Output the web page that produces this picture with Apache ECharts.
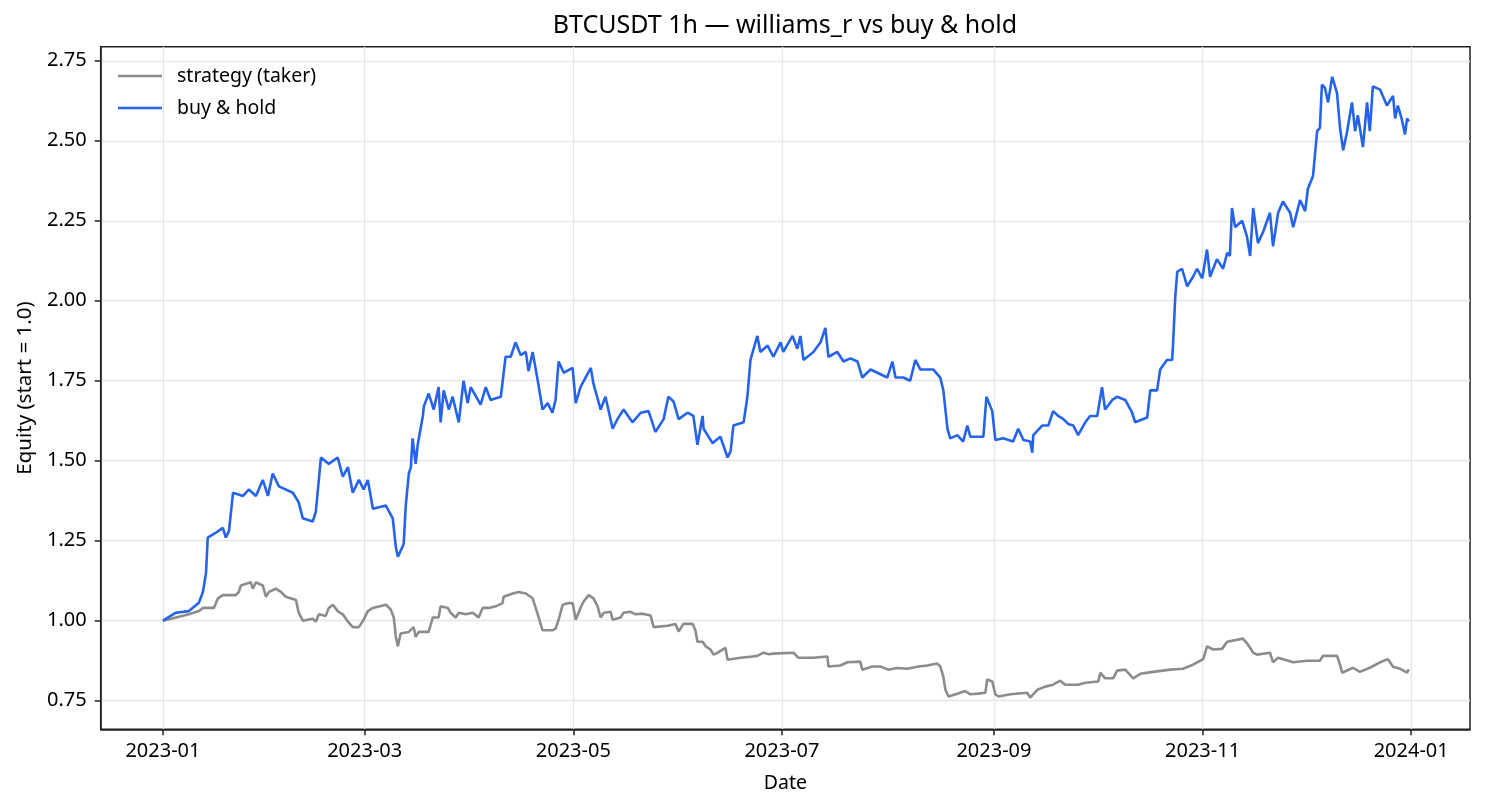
<!DOCTYPE html>
<html>
<head>
<meta charset="utf-8">
<script src="https://cdn.jsdelivr.net/npm/echarts@6/dist/echarts.min.js"></script>
<style>
html,body{margin:0;padding:0;background:#fff;}
#chart{width:1485px;height:810px;}
</style>
</head>
<body>
<div id="chart"></div>
<script>
// Day offsets are days since 2023-01-01 00:00 UTC
const strategyDays = [0,3.8,7.6,10.5,11.7,14.9,16.1,17.5,21.3,22.2,22.8,25.7,26.3,27.2,29.2,30.1,31.0,33.0,34.5,35.9,38.9,39.7,40.9,43.8,44.7,45.6,47.6,48.5,49.7,51.1,52.6,54.1,55.5,57.3,58.7,59.9,61.4,65.2,66.6,67.5,68.1,68.7,69.5,71.9,73.3,73.9,74.8,77.7,78.9,80.6,81.2,83.3,84.1,85.6,86.5,88.5,90.6,92.3,93.5,95.3,97.3,99.3,99.6,102.3,104.0,106.1,108.1,109.6,111.0,113.9,114.8,115.7,116.9,118.6,119.8,120.7,122.1,123.0,124.5,125.9,127.1,128.0,128.9,130.9,131.5,133.8,134.7,136.7,138.2,140.2,142.6,143.5,147.6,149.9,150.8,152.2,154.9,155.7,156.3,157.8,158.7,160.1,161.0,162.2,164.5,165.1,168.9,172.4,173.8,175.6,177.1,178.5,184.4,185.8,190.2,194.3,194.6,198.1,200.1,203.9,204.5,207.4,209.8,212.1,214.7,217.7,220.9,223.5,226.4,227.3,228.2,228.8,229.7,232.3,234.6,236.1,238.4,240.5,241.0,242.5,243.4,244.3,247.8,252.7,253.6,255.7,258.0,260.3,262.4,263.8,267.6,269.7,273.5,274.1,275.5,277.9,279.0,281.4,283.7,285.8,289.5,294.5,298.3,301.2,304.2,305.3,307.1,309.7,311.2,315.8,317.3,318.8,319.9,323.7,324.6,326.1,330.5,334.5,338.3,339.2,343.3,344.2,344.8,348.0,350.0,352.9,355.9,358.2,359.7,361.7,363.8,364.3];
const strategyEquity = [1.00,1.01,1.02,1.03,1.04,1.04,1.07,1.08,1.08,1.09,1.11,1.12,1.10,1.12,1.11,1.075,1.09,1.10,1.09,1.075,1.065,1.025,1.00,1.006,0.997,1.02,1.015,1.04,1.05,1.03,1.02,0.997,0.98,0.98,1.003,1.03,1.04,1.05,1.035,1.01,0.95,0.92,0.96,0.965,0.98,0.95,0.965,0.965,1.01,1.01,1.045,1.04,1.025,1.01,1.025,1.02,1.025,1.01,1.04,1.04,1.045,1.055,1.075,1.085,1.09,1.085,1.07,1.02,0.97,0.97,0.975,1.003,1.05,1.055,1.055,1.003,1.04,1.06,1.08,1.07,1.045,1.01,1.025,1.028,1.003,1.01,1.025,1.028,1.02,1.022,1.016,0.98,0.984,0.99,0.966,0.99,0.99,0.97,0.934,0.934,0.92,0.91,0.894,0.90,0.915,0.878,0.884,0.888,0.89,0.90,0.895,0.897,0.90,0.884,0.884,0.888,0.857,0.86,0.87,0.872,0.847,0.857,0.857,0.847,0.852,0.85,0.857,0.86,0.866,0.857,0.825,0.784,0.763,0.772,0.78,0.77,0.772,0.775,0.816,0.81,0.77,0.763,0.77,0.775,0.76,0.784,0.794,0.80,0.8125,0.80,0.80,0.806,0.81,0.8375,0.82,0.82,0.844,0.847,0.82,0.834,0.84,0.847,0.85,0.8625,0.88,0.92,0.91,0.912,0.934,0.944,0.925,0.90,0.894,0.90,0.87,0.884,0.87,0.875,0.875,0.89,0.89,0.8625,0.8375,0.853,0.84,0.853,0.87,0.88,0.856,0.85,0.8375,0.848];

const holdDays = [0,3.8,7.6,10.5,11.7,12.6,13.1,15.5,17.5,18.4,19.3,20.5,23.4,25.1,27.2,29.2,30.7,32.1,33.9,38.0,39.7,40.9,43.8,44.7,46.2,48.5,51.1,52.6,54.1,55.5,57.3,58.7,59.9,61.4,65.2,67.2,68.1,68.7,70.4,71.0,71.9,72.5,73.0,73.9,74.5,76.0,76.3,77.7,79.2,80.6,81.2,82.1,83.6,84.7,86.5,87.9,89.1,90.0,92.9,94.4,95.8,98.8,100.2,101.7,103.1,104.6,106.1,106.9,108.1,109.6,111.0,112.5,113.9,114.8,115.7,117.2,119.8,120.7,122.1,125.1,125.9,128.0,129.4,131.5,132.9,134.7,137.3,139.7,142.0,144.0,146.4,147.8,149.3,150.8,153.4,155.1,156.3,157.8,158.1,160.7,163.0,165.1,166.0,166.8,169.8,170.9,171.8,173.8,174.7,176.8,178.5,180.6,181.4,184.1,185.5,186.4,187.3,190.2,192.3,193.7,194.6,197.2,199.0,201.0,203.1,204.5,206.9,208.9,211.8,213.3,214.2,216.5,218.5,220.0,221.5,225.3,227.3,228.2,229.4,230.2,232.3,234.0,235.2,236.1,239.9,240.8,242.5,243.4,245.7,248.6,250.1,251.6,253.6,254.2,254.5,257.1,258.9,260.3,261.8,263.3,264.7,266.2,267.6,269.7,271.1,273.2,274.6,275.5,277.6,279.0,281.4,283.4,284.3,287.8,288.7,290.7,291.6,293.6,295.1,295.4,296.0,296.6,298.0,299.5,301.2,302.4,303.9,305.3,306.2,308.2,310.0,311.2,312.0,312.6,313.5,315.6,317.0,317.9,318.8,320.2,321.7,323.7,324.6,326.1,327.5,329.6,330.5,332.5,334.0,334.8,336.3,337.5,338.3,338.9,339.8,340.7,341.9,343.3,344.2,345.1,346.2,347.7,348.6,349.4,350.9,352.1,352.9,353.8,355.9,357.9,359.7,360.3,361.1,362.3,363.2,363.8,364.3];
const holdEquity = [1.00,1.025,1.03,1.056,1.09,1.15,1.26,1.275,1.29,1.26,1.28,1.40,1.39,1.41,1.39,1.44,1.39,1.46,1.42,1.40,1.37,1.32,1.31,1.34,1.51,1.49,1.51,1.45,1.48,1.40,1.44,1.41,1.44,1.35,1.36,1.32,1.23,1.20,1.24,1.36,1.46,1.48,1.57,1.49,1.55,1.64,1.67,1.71,1.66,1.73,1.62,1.72,1.66,1.70,1.62,1.75,1.68,1.73,1.675,1.73,1.69,1.70,1.825,1.825,1.87,1.83,1.84,1.78,1.84,1.75,1.66,1.68,1.65,1.69,1.81,1.775,1.79,1.68,1.73,1.79,1.74,1.66,1.70,1.60,1.63,1.66,1.62,1.65,1.655,1.59,1.63,1.70,1.685,1.63,1.65,1.64,1.55,1.64,1.60,1.555,1.575,1.51,1.53,1.61,1.62,1.70,1.815,1.89,1.84,1.86,1.825,1.87,1.84,1.89,1.85,1.89,1.815,1.84,1.87,1.915,1.825,1.84,1.81,1.82,1.81,1.76,1.785,1.775,1.76,1.81,1.76,1.76,1.75,1.815,1.785,1.785,1.76,1.72,1.60,1.57,1.58,1.56,1.61,1.575,1.575,1.70,1.655,1.565,1.57,1.56,1.60,1.565,1.56,1.525,1.58,1.61,1.61,1.655,1.64,1.63,1.615,1.61,1.58,1.62,1.64,1.64,1.73,1.66,1.69,1.70,1.69,1.65,1.62,1.635,1.72,1.72,1.785,1.815,1.815,1.87,2.01,2.09,2.10,2.045,2.075,2.10,2.07,2.16,2.075,2.13,2.10,2.15,2.14,2.29,2.23,2.25,2.20,2.14,2.29,2.18,2.215,2.275,2.17,2.275,2.31,2.275,2.23,2.315,2.28,2.35,2.39,2.53,2.54,2.675,2.665,2.62,2.70,2.65,2.54,2.47,2.525,2.62,2.53,2.58,2.48,2.62,2.53,2.67,2.66,2.61,2.64,2.57,2.61,2.565,2.52,2.57,2.56];

const xTickLabels = ['2023-01','2023-03','2023-05','2023-07','2023-09','2023-11','2024-01'];
const yTickValues = [0.75,1.00,1.25,1.50,1.75,2.00,2.25,2.50,2.75];

const T0 = Date.UTC(2023,0,1);
const DAY = 86400000;
const xTicks = xTickLabels.map(s => (Date.UTC(+s.slice(0,4), +s.slice(5,7) - 1, 1) - T0) / DAY);
const strategyData = strategyDays.map((d,i) => [d, strategyEquity[i]]);
const holdData = holdDays.map((d,i) => [d, holdEquity[i]]);

const FONT = 'Noto Sans';
const chart = echarts.init(document.getElementById('chart'), null, {renderer:'canvas'});
chart.setOption({
  animation: false,
  backgroundColor: '#ffffff',
  textStyle: {fontFamily: FONT, color: '#000'},
  title: {
    text: 'BTCUSDT 1h \u2014 williams_r vs buy & hold',
    left: 780, top: 8, textAlign: 'center',
    textStyle: {fontFamily: FONT, fontSize: 25, fontWeight: 'normal', color: '#000'}
  },
  legend: {
    orient: 'vertical', left: 118, top: 64, padding: 0,
    itemWidth: 44, itemHeight: 2.5, itemGap: 8, icon: 'rect',
    textStyle: {fontFamily: FONT, fontSize: 19.5, color: '#000', lineHeight: 24, padding: [0,0,0,10]},
    data: ['strategy (taker)', 'buy & hold']
  },
  grid: {
    left: 100.7, right: 15, top: 46.7, bottom: 80.7,
    show: true, borderColor: '#222', borderWidth: 1.5, backgroundColor: 'transparent'
  },
  xAxis: {
    type: 'value',
    min: -18.2, max: 382.2,
    name: 'Date', nameLocation: 'middle', nameGap: 44,
    nameTextStyle: {fontFamily: FONT, fontSize: 19.5, color: '#000'},
    axisLine: {show: true, onZero: false, lineStyle: {color: '#222', width: 1.5}},
    axisTick: {show: true, length: 6, inside: false, lineStyle: {color: '#222', width: 1.5}, customValues: xTicks},
    axisLabel: {
      fontFamily: FONT, fontSize: 20, color: '#000', margin: 12,
      customValues: xTicks,
      formatter: v => { const i = xTicks.findIndex(t => Math.abs(t - v) < 0.01); return i >= 0 ? xTickLabels[i] : ''; }
    },
    splitLine: {show: true, lineStyle: {color: '#e6e6e6', width: 1.3}}
  },
  yAxis: {
    type: 'value',
    min: 0.6606, max: 2.794,
    name: 'Equity (start = 1.0)', nameLocation: 'middle', nameGap: 65, nameRotate: 90,
    nameTextStyle: {fontFamily: FONT, fontSize: 20.5, color: '#000'},
    axisLine: {show: true, onZero: false, lineStyle: {color: '#222', width: 1.5}},
    axisTick: {show: true, length: 6, inside: false, lineStyle: {color: '#222', width: 1.5}, customValues: yTickValues},
    axisLabel: {
      fontFamily: FONT, fontSize: 20, color: '#000', margin: 14,
      customValues: yTickValues,
      formatter: v => v.toFixed(2)
    },
    splitLine: {show: true, lineStyle: {color: '#e6e6e6', width: 1.3}}
  },
  series: [
    {
      name: 'strategy (taker)', type: 'line', data: strategyData,
      showSymbol: false, symbol: 'none', color: '#8c8c8c',
      lineStyle: {color: '#8c8c8c', width: 2.6}, z: 2
    },
    {
      name: 'buy & hold', type: 'line', data: holdData,
      showSymbol: false, symbol: 'none', color: '#2563eb',
      lineStyle: {color: '#2563eb', width: 2.6}, z: 3
    }
  ]
});
</script>
</body>
</html>
